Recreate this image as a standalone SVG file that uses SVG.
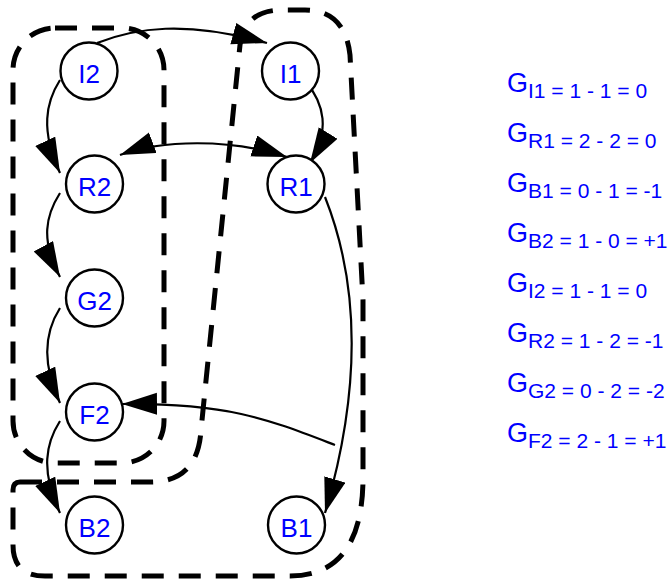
<svg xmlns="http://www.w3.org/2000/svg" width="669" height="580" viewBox="0 0 669 580">
<style>
.bg{fill:#fff}
.node circle{fill:#fff;stroke:#000;stroke-width:2.4}
.node text{font-family:"Liberation Sans",Arial,sans-serif;font-size:26px;fill:#0000ff;text-anchor:middle}
.grp{fill:none;stroke:#000;stroke-width:5;stroke-dasharray:22 15}
.edge{fill:none;stroke:#000;stroke-width:2.2}
.eq{font-family:"Liberation Sans",Arial,sans-serif;font-size:27px;fill:#0000ff}
.eq tspan{font-size:21px}
</style>
<defs>
<marker id="ah" markerUnits="userSpaceOnUse" markerWidth="38" markerHeight="24" refX="35" refY="11" orient="auto-start-reverse">
<path d="M0,0 L35,11 L0,22 z" fill="#000"/>
</marker>
</defs>
<rect class="bg" x="0" y="0" width="669" height="580"/>
<g id="groups">
<rect class="grp" x="13" y="28" width="151" height="435" rx="42" ry="42"/>
<path class="grp" d="M20,482 L150,482 Q198,482 201,430 L240,45 Q245,10 282,10 L305,10 Q345,10 350,55 L363,300 L363,480 Q362,576 290,576 L45,576 Q13,576 13,545 L13,490 Q13,482 20,482 Z"/>
</g>
<g id="connectors">
<path class="edge" marker-end="url(#ah)" d="M97,43 C135,28 185,20 267,43"/>
<path class="edge" marker-end="url(#ah)" d="M305,80 C325,105 330,130 310,163"/>
<path class="edge" marker-end="url(#ah)" d="M60,80 C46,102 40,130 60,173"/>
<path class="edge" marker-start="url(#ah)" marker-end="url(#ah)" d="M120,155 C160,140 230,138 287,157"/>
<path class="edge" marker-end="url(#ah)" d="M60,193 C46,215 40,240 60,277"/>
<path class="edge" marker-end="url(#ah)" d="M60,308 C46,330 40,360 60,403"/>
<path class="edge" marker-end="url(#ah)" d="M60,421 C46,443 40,470 60,513"/>
<path class="edge" marker-end="url(#ah)" d="M325,197 C350,260 370,360 325,513"/>
<path class="edge" marker-end="url(#ah)" d="M335,445 C270,420 230,403 122,404"/>
</g>
<g id="I2" class="node"><circle cx="89" cy="71" r="28.5"/><text x="89" y="83">I2</text></g>
<g id="I1" class="node"><circle cx="290.5" cy="71" r="28.5"/><text x="290.5" y="83">I1</text></g>
<g id="R2" class="node"><circle cx="94.5" cy="184" r="28.5"/><text x="94.5" y="196">R2</text></g>
<g id="R1" class="node"><circle cx="296" cy="184" r="28.5"/><text x="296" y="196">R1</text></g>
<g id="G2" class="node"><circle cx="94.5" cy="298" r="28.5"/><text x="94.5" y="310">G2</text></g>
<g id="F2" class="node"><circle cx="94.5" cy="412" r="28.5"/><text x="94.5" y="424">F2</text></g>
<g id="B2" class="node"><circle cx="94.5" cy="525" r="28.5"/><text x="94.5" y="537">B2</text></g>
<g id="B1" class="node"><circle cx="296.5" cy="525" r="28.5"/><text x="296.5" y="537">B1</text></g>
<g id="equations">
<text class="eq" x="507" y="92">G<tspan dy="6">I1 = 1 - 1 = 0</tspan></text>
<text class="eq" x="507" y="142">G<tspan dy="6">R1 = 2 - 2 = 0</tspan></text>
<text class="eq" x="507" y="192">G<tspan dy="6">B1 = 0 - 1 = -1</tspan></text>
<text class="eq" x="507" y="242">G<tspan dy="6">B2 = 1 - 0 = +1</tspan></text>
<text class="eq" x="507" y="292">G<tspan dy="6">I2 = 1 - 1 = 0</tspan></text>
<text class="eq" x="507" y="342">G<tspan dy="6">R2 = 1 - 2 = -1</tspan></text>
<text class="eq" x="507" y="392">G<tspan dy="6">G2 = 0 - 2 = -2</tspan></text>
<text class="eq" x="507" y="442">G<tspan dy="6">F2 = 2 - 1 = +1</tspan></text>
</g>
</svg>
